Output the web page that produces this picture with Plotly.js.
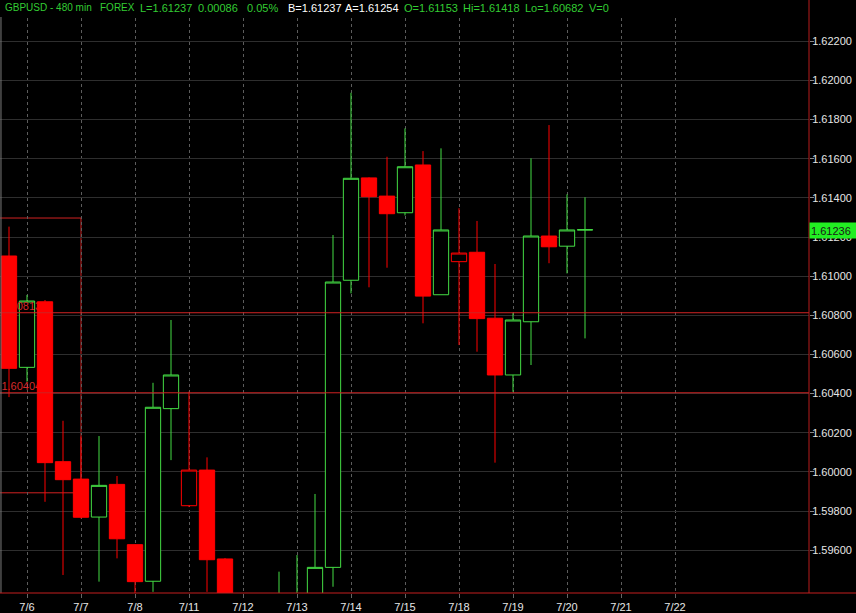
<!DOCTYPE html>
<html>
<head>
<meta charset="utf-8">
<script src="https://cdn.plot.ly/plotly-3.0.1.min.js"></script>
<style>
  html, body { margin: 0; padding: 0; background: #000; }
  #chart { width: 856px; height: 613px; }
</style>
</head>
<body>
<div id="chart"></div>
<script>
// GBPUSD, 480-minute bars, oldest first (bar 0 is the 7/5 16:00 session)
const open  = [1.61103, 1.60534, 1.60869, 1.60052, 1.59963, 1.59769, 1.59936, 1.59628, 1.59441, 1.60323,
               1.59827, 1.60009, 1.59555, 1.59300, 1.59180, 1.59280, 1.59340, 1.59360, 1.59512, 1.60979,
               1.61502, 1.61409, 1.61324, 1.61568, 1.60905, 1.61074, 1.61122, 1.60785, 1.60495, 1.60767,
               1.61205, 1.61153, 1.61236];
const high  = [1.61253, 1.60904, 1.60878, 1.60261, 1.60180, 1.60183, 1.59979, 1.59630, 1.60455, 1.60776,
               1.60410, 1.60074, 1.59560, 1.59360, 1.59340, 1.59490, 1.59575, 1.59887, 1.61210, 1.61937,
               1.61505, 1.61610, 1.61755, 1.61639, 1.61653, 1.61347, 1.61282, 1.61062, 1.60813, 1.61602,
               1.61772, 1.61418, 1.61403];
const low   = [1.60382, 1.60461, 1.59847, 1.59473, 1.59762, 1.59439, 1.59558, 1.59370, 1.59387, 1.60060,
               1.59820, 1.59387, 1.59250, 1.59120, 1.59080, 1.59200, 1.59250, 1.59320, 1.59413, 1.60912,
               1.60943, 1.61043, 1.61310, 1.60759, 1.60905, 1.60648, 1.60614, 1.60047, 1.60409, 1.60546,
               1.61066, 1.61014, 1.60682];
const close = [1.60529, 1.60873, 1.60047, 1.59960, 1.59768, 1.59931, 1.59658, 1.59439, 1.60330, 1.60495,
               1.60009, 1.59551, 1.59300, 1.59180, 1.59280, 1.59350, 1.59370, 1.59512, 1.60970, 1.61500,
               1.61406, 1.61319, 1.61559, 1.60898, 1.61236, 1.61118, 1.60783, 1.60495, 1.60776, 1.61205,
               1.61150, 1.61236, 1.61237];

// session dates on the time axis; each session holds three 8-hour bars
const sessionLabels = ['7/6', '7/7', '7/8', '7/11', '7/12', '7/13', '7/14', '7/15', '7/18', '7/19', '7/20', '7/21', '7/22'];
const firstSessionBar = 1;
const barsPerSession = 3;

// price scale
const priceLevels = [1.596, 1.598, 1.600, 1.602, 1.604, 1.606, 1.608, 1.610, 1.612, 1.614, 1.616, 1.618, 1.620, 1.622];
const priceWindow = [1.59381, 1.62411];

// drawn reference levels and the opening range box
const refLevels = [1.60813, 1.60404];
const rangeBoxHigh = 1.61297;
const rangeBoxLow = 1.59893;
const rangeBoxEndBar = 4;

// quote header
const bid = 1.61237;
const ask = 1.61254;
const lastQuote = 1.61236;
const netChange = 0.00086;
const pctChange = 0.05;
const volume = 0;

const FONT = 'Liberation Sans, Arial, sans-serif';
const GREEN = '#44dd44';
const HEAD_GREEN = '#33cc33';
const RED = '#ff0000';
const LINE_RED = '#d02222';

const N = open.length;
const last = N - 1;

// bars rising at or above the prior close are green and hollow, rising bars below
// the prior close are red and hollow, falling bars are solid red
const rise = [], riseBelowPrev = [], fall = [];
for (let i = 0; i < N; i++) {
  if (close[i] < open[i]) fall.push(i);
  else if (i > 0 && close[i] < close[i - 1]) riseBelowPrev.push(i);
  else rise.push(i);
}

function candles(idx, lineColor, fill, xa, ya) {
  const side = { line: { color: lineColor, width: 1 }, fillcolor: fill };
  return {
    type: 'candlestick',
    xaxis: xa, yaxis: ya,
    x: idx,
    open: idx.map(i => open[i]),
    high: idx.map(i => high[i]),
    low: idx.map(i => low[i]),
    close: idx.map(i => close[i]),
    increasing: side,
    decreasing: side,
    whiskerwidth: 0,
    hoverinfo: 'skip',
    showlegend: false
  };
}

// level captions sit above the hollow bars but under the solid ones,
// so the solid bars live on an overlaid pair of axes drawn afterwards
const data = [
  candles(rise, GREEN, '#000000', 'x', 'y'),
  candles(riseBelowPrev, RED, '#000000', 'x', 'y'),
  {
    type: 'scatter', mode: 'text', xaxis: 'x', yaxis: 'y',
    x: refLevels.map(() => -0.42), y: refLevels,
    text: refLevels.map(v => v.toFixed(5)),
    textposition: 'top right',
    textfont: { family: 'Liberation Sans, Arial, sans-serif', size: 11, color: '#d42a2a' },
    hoverinfo: 'skip', showlegend: false, cliponaxis: false
  },
  candles(fall, RED, RED, 'x2', 'y2')
];

const tickBars = sessionLabels.map((_, k) => firstSessionBar + k * barsPerSession);

const plotW = 856 - 47;
const plotH = 613 - 20;
const headerFrac = 1 - 17 / plotH;
const barRange = [-0.5, -0.5 + plotW / 18];

const shapes = [
  {
    type: 'rect', xref: 'x', yref: 'y', x0: -1, x1: rangeBoxEndBar,
    y0: rangeBoxLow, y1: rangeBoxHigh, layer: 'below',
    line: { color: LINE_RED, width: 1 }, fillcolor: 'rgba(0,0,0,0)'
  }
];
refLevels.forEach(v => {
  shapes.push({
    type: 'line', xref: 'paper', yref: 'y', x0: 0, x1: 1, y0: v, y1: v, layer: 'above',
    line: { color: LINE_RED, width: 1 }
  });
});
shapes.push(
  { type: 'rect', xref: 'paper', yref: 'paper', x0: 0, x1: 1.06, y0: headerFrac, y1: 1.01,
    layer: 'above', fillcolor: '#000000', line: { width: 0 } },
  { type: 'line', xref: 'paper', yref: 'paper', x0: 0.0012, x1: 0.0012, y0: 0, y1: headerFrac,
    layer: 'above', line: { color: '#7a7a7a', width: 1 } },
  { type: 'line', xref: 'paper', yref: 'paper', x0: 1, x1: 1, y0: 0, y1: 1.01,
    layer: 'above', line: { color: '#b81c1c', width: 1 } },
  { type: 'line', xref: 'paper', yref: 'paper', x0: 0, x1: 856 / plotW, y0: 0, y1: 0,
    layer: 'above', line: { color: '#c41e1e', width: 1 } }
);

const header = [
  ['GBPUSD - 480 min', 3, HEAD_GREEN, 10],
  ['FOREX', 98, HEAD_GREEN, 10],
  ['L=' + close[last].toFixed(5), 138, HEAD_GREEN, 11],
  [netChange.toFixed(5), 196, HEAD_GREEN, 11],
  [pctChange.toFixed(2) + '%', 245, HEAD_GREEN, 11],
  ['B=' + bid.toFixed(5), 286, '#ffffff', 11],
  ['A=' + ask.toFixed(5), 343, '#ffffff', 11],
  ['O=' + open[last - 1].toFixed(5), 402, HEAD_GREEN, 11],
  ['Hi=' + high[last - 1].toFixed(5), 461, HEAD_GREEN, 11],
  ['Lo=' + low[last].toFixed(5), 523, HEAD_GREEN, 11],
  ['V=' + volume, 587, HEAD_GREEN, 11]
];

const annotations = header.map(([text, px, color, size]) => ({
  xref: 'paper', yref: 'paper', x: px / plotW, y: 1, xanchor: 'left', yanchor: 'top',
  text: text, showarrow: false, borderpad: 1,
  font: { family: FONT, size: size, color: color }
}));
annotations.push({
  xref: 'paper', yref: 'y', x: 1, y: lastQuote, xanchor: 'left', yanchor: 'middle',
  text: lastQuote.toFixed(5), showarrow: false, align: 'left',
  bgcolor: '#22ee22', width: 45, height: 13, borderpad: 1, yshift: -1,
  font: { family: FONT, size: 11, color: '#1a1a1a' }
});

const layout = {
  width: 856, height: 613,
  margin: { l: 0, r: 47, t: 0, b: 20, pad: 0 },
  paper_bgcolor: '#000000', plot_bgcolor: '#000000',
  showlegend: false,
  boxmode: 'overlay', boxgap: 0.15, boxgroupgap: 0,
  xaxis: {
    range: barRange,
    tickmode: 'array', tickvals: tickBars, ticktext: sessionLabels,
    showgrid: true, gridcolor: '#5c5c5c', griddash: '3px,3px', gridwidth: 1,
    zeroline: false, showline: false,
    ticks: 'outside', ticklen: 4, tickcolor: '#666666',
    tickfont: { family: FONT, size: 11, color: '#e6e6e6' },
    rangeslider: { visible: false }, fixedrange: true
  },
  yaxis: {
    side: 'right', range: priceWindow,
    tickmode: 'array', tickvals: priceLevels, tickformat: '.5f',
    showgrid: true, gridcolor: '#2e2e2e', gridwidth: 1,
    zeroline: false, showline: false,
    ticks: 'outside', ticklen: 4, tickcolor: '#8a8a8a', ticklabelstandoff: -4,
    tickfont: { family: FONT, size: 11, color: '#e6e6e6' },
    fixedrange: true
  },
  xaxis2: {
    overlaying: 'x', anchor: 'y2', range: barRange, visible: false,
    rangeslider: { visible: false }, fixedrange: true
  },
  yaxis2: {
    overlaying: 'y', anchor: 'x2', side: 'right', range: priceWindow, visible: false,
    fixedrange: true
  },
  shapes: shapes,
  annotations: annotations
};

Plotly.newPlot('chart', data, layout, { displayModeBar: false, staticPlot: true });
</script>
</body>
</html>
